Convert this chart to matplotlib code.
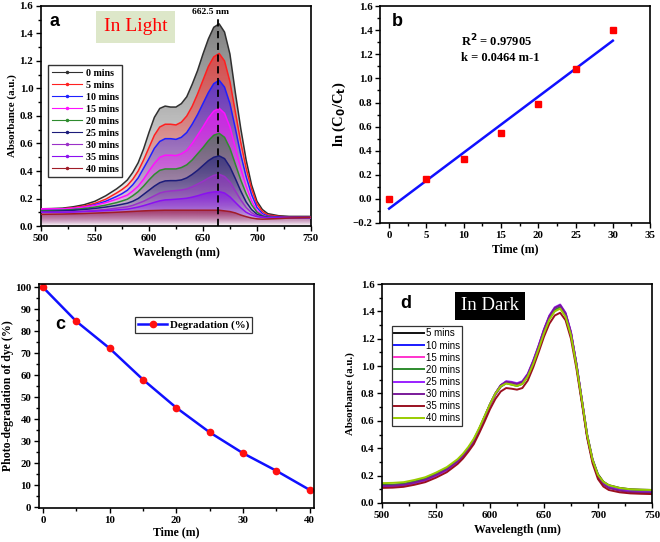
import numpy as np
import matplotlib
matplotlib.use('Agg')
import matplotlib.pyplot as plt
import matplotlib.colors as mcolors
from matplotlib.patches import Polygon
from matplotlib.ticker import MultipleLocator

plt.rcParams['font.family'] = ['Liberation Serif', 'DejaVu Serif']
plt.rcParams['font.weight'] = 'bold'
plt.rcParams['axes.labelweight'] = 'bold'

# ---- wavelength grid shared by the spectra (nm) ----
wl = [500, 510, 520, 530, 540, 550, 560, 570, 575, 580, 585, 590, 595, 600, 605,
      610, 615, 620, 625, 630, 635, 640, 645, 650, 655, 660, 665, 670, 675, 680,
      685, 690, 695, 700, 705, 710, 720, 730, 740, 750]

# ---- panel a: UV-vis spectra in light ----
light_labels = ['0 mins', '5 mins', '10 mins', '15 mins', '20 mins', '25 mins',
                '30 mins', '35 mins', '40 mins']
light_colors = ['#303030', '#ff2020', '#1f1fff', '#ff10ff', '#2e8b2e', '#1c1c7a',
                '#9a30c8', '#8a10f0', '#a01c28']
light_0 = [.125, .127, .13, .14, .155, .18, .22, .27, .30, .335, .39, .46, .56, .68, .79,
           .855, .872, .865, .865, .89, .94, 1.03, 1.13, 1.25, 1.36, 1.445, 1.47, 1.41, 1.25, .97,
           .71, .48, .30, .18, .12, .09, .075, .07, .07, .07]
light_5 = [.12, .122, .125, .133, .145, .165, .195, .24, .265, .295, .34, .40, .48, .57, .66,
           .72, .74, .74, .735, .755, .80, .87, .96, 1.06, 1.16, 1.23, 1.255, 1.20, 1.05, .83,
           .61, .42, .27, .16, .105, .08, .07, .065, .065, .065]
light_10 = [.115, .117, .12, .127, .137, .155, .18, .215, .235, .26, .30, .35, .42, .49, .565,
            .615, .635, .635, .63, .645, .68, .74, .81, .89, .97, 1.035, 1.06, 1.01, .89, .71,
            .52, .36, .23, .135, .09, .072, .065, .063, .063, .063]
light_15 = [.125, .125, .125, .13, .138, .15, .17, .195, .21, .225, .255, .29, .34, .40, .455,
            .50, .515, .515, .512, .525, .55, .60, .66, .72, .785, .835, .856, .82, .72, .57,
            .42, .29, .185, .11, .08, .065, .06, .06, .06, .06]
light_20 = [.11, .112, .115, .12, .127, .138, .152, .17, .182, .195, .22, .25, .29, .335, .375,
            .405, .415, .415, .415, .425, .445, .48, .525, .57, .62, .66, .674, .645, .565, .45,
            .335, .235, .155, .10, .075, .065, .06, .06, .06, .06]
light_25 = [.105, .107, .11, .114, .12, .128, .138, .15, .158, .166, .18, .20, .23, .26, .29,
            .315, .328, .33, .33, .335, .35, .375, .405, .44, .475, .50, .51, .49, .43, .345,
            .255, .175, .12, .085, .07, .062, .06, .06, .06, .06]
light_30 = [.10, .10, .10, .104, .108, .114, .12, .13, .135, .14, .15, .165, .18, .20, .22,
            .24, .25, .255, .258, .262, .27, .285, .305, .325, .348, .368, .376, .36, .32, .255,
            .19, .135, .097, .075, .065, .06, .06, .06, .06, .06]
light_35 = [.10, .10, .10, .102, .105, .108, .112, .117, .12, .123, .13, .138, .148, .16, .172,
            .183, .19, .192, .195, .198, .202, .21, .22, .232, .242, .248, .25, .24, .212, .172,
            .133, .10, .08, .068, .062, .06, .06, .06, .06, .06]
light_40 = [.085, .086, .087, .089, .091, .094, .097, .10, .102, .104, .106, .108, .11, .112, .113,
            .114, .115, .115, .115, .115, .115, .115, .115, .115, .115, .115, .115, .11, .105, .095,
            .08, .068, .058, .052, .05, .051, .054, .058, .06, .062]
light_spectra = [light_0, light_5, light_10, light_15, light_20, light_25,
                 light_30, light_35, light_40]

# ---- panel b: kinetics ----
time_b = [0, 5, 10, 15, 20, 25, 30]
ln_c0_ct = [0.0, 0.165, 0.33, 0.545, 0.79, 1.08, 1.405]

# ---- panel c: degradation ----
time_c = [0, 5, 10, 15, 20, 25, 30, 35, 40]
degradation = [100, 84.5, 72.2, 58, 45.2, 34, 24.5, 16.5, 7.8]

# ---- panel d: spectra in dark ----
dark_labels = ['5 mins', '10 mins', '15 mins', '20 mins', '25 mins', '30 mins',
               '35 mins', '40 mins']
dark_colors = ['#111111', '#1a1aff', '#ff33cc', '#2e8b2e', '#9a20ff', '#7a1a9a',
               '#9a1020', '#99cc00']
dark_5 = [.13, .132, .138, .155, .175, .21, .25, .31, .35, .40, .46, .54, .63, .72, .80,
          .86, .885, .875, .865, .88, .935, 1.03, 1.14, 1.26, 1.36, 1.42, 1.44, 1.38, 1.24, 1.02,
          .76, .50, .32, .21, .155, .13, .11, .10, .097, .095]
dark_10 = [.125, .127, .133, .15, .17, .205, .245, .305, .345, .395, .455, .535, .625, .715, .795,
           .855, .88, .87, .86, .875, .93, 1.025, 1.135, 1.255, 1.355, 1.415, 1.435, 1.375, 1.235, 1.01,
           .75, .49, .31, .20, .145, .12, .10, .09, .087, .085]
dark_15 = [.12, .122, .128, .145, .165, .20, .24, .30, .34, .39, .45, .53, .62, .71, .79,
           .85, .878, .87, .86, .875, .93, 1.03, 1.14, 1.26, 1.36, 1.42, 1.44, 1.38, 1.24, 1.01,
           .75, .49, .31, .195, .14, .115, .095, .085, .082, .08]
dark_20 = [.13, .132, .138, .155, .175, .21, .25, .31, .35, .40, .46, .54, .63, .72, .795,
           .85, .875, .865, .855, .87, .925, 1.02, 1.13, 1.25, 1.35, 1.41, 1.43, 1.37, 1.23, 1.01,
           .75, .49, .31, .20, .15, .12, .10, .09, .087, .085]
dark_25 = [.12, .122, .128, .145, .165, .20, .24, .30, .34, .39, .45, .535, .625, .72, .80,
           .86, .89, .885, .875, .89, .945, 1.04, 1.15, 1.27, 1.37, 1.43, 1.45, 1.39, 1.25, 1.02,
           .76, .49, .31, .195, .14, .115, .095, .085, .08, .078]
dark_30 = [.125, .127, .133, .15, .17, .205, .245, .305, .345, .395, .455, .537, .627, .72, .80,
           .86, .885, .88, .87, .885, .94, 1.035, 1.145, 1.265, 1.365, 1.425, 1.445, 1.385, 1.245, 1.015,
           .755, .49, .31, .19, .135, .11, .09, .08, .077, .075]
dark_35 = [.11, .112, .118, .133, .152, .185, .225, .285, .325, .375, .43, .51, .595, .685, .76,
           .815, .84, .835, .828, .84, .895, .99, 1.10, 1.215, 1.31, 1.37, 1.39, 1.335, 1.20, .985,
           .735, .475, .29, .175, .12, .095, .078, .07, .067, .065]
dark_40 = [.145, .147, .152, .168, .188, .222, .262, .32, .36, .41, .47, .548, .635, .722, .80,
           .853, .873, .865, .855, .87, .925, 1.015, 1.125, 1.24, 1.34, 1.40, 1.42, 1.36, 1.225, 1.005,
           .755, .495, .315, .205, .155, .13, .11, .10, .097, .095]
dark_spectra = [dark_5, dark_10, dark_15, dark_20, dark_25, dark_30, dark_35, dark_40]


def style_axes(ax):
    for s in ax.spines.values():
        s.set_linewidth(1.2)
    ax.tick_params(which='both', direction='out', top=False, right=False,
                   labelsize=7.8, width=1, pad=2)
    ax.tick_params(which='major', length=3.5)
    ax.tick_params(which='minor', length=2)
    for lab in ax.get_xticklabels() + ax.get_yticklabels():
        lab.set_fontweight('bold')


def gradient_fill(ax, x, y, color, amax=0.62):
    rgb = mcolors.to_rgb(color)
    img = np.zeros((128, 1, 4))
    img[:, 0, :3] = rgb
    img[:, 0, 3] = np.linspace(0, amax, 128)
    im = ax.imshow(img, aspect='auto', origin='lower',
                   extent=[x[0], x[-1], 0, max(y)], zorder=1)
    verts = [(x[0], 0)] + list(zip(x, y)) + [(x[-1], 0)]
    patch = Polygon(verts, closed=True, facecolor='none', edgecolor='none')
    ax.add_patch(patch)
    im.set_clip_path(patch)


fig = plt.figure(figsize=(6.6, 5.42), dpi=100)

# panel a
ax_a = fig.add_axes([0.0621, 0.583, 0.409, 0.406])
for spec, col in zip(light_spectra, light_colors):
    gradient_fill(ax_a, wl, spec, col)
for spec, col, lab in zip(light_spectra, light_colors, light_labels):
    ax_a.plot(wl, spec, color=col, lw=1.1, label=lab, zorder=3)
ax_a.plot([664, 664], [0, 1.535], color='black', ls=(0, (4, 2.5)), lw=1.3, zorder=4)
ax_a.text(657, 1.555, '662.5 nm', ha='center', va='center', fontsize=6.8,
          fontweight='bold')
ax_a.set_xlim(500, 750)
ax_a.set_ylim(0, 1.6)
ax_a.xaxis.set_major_locator(MultipleLocator(50))
ax_a.xaxis.set_minor_locator(MultipleLocator(25))
ax_a.yaxis.set_major_locator(MultipleLocator(0.2))
ax_a.yaxis.set_minor_locator(MultipleLocator(0.1))
ax_a.set_xlabel('Wavelength (nm)', fontsize=8.5, labelpad=3)
ax_a.set_ylabel('Absorbance (a.u.)', fontsize=7.8, labelpad=2)
handles = [plt.Line2D([], [], color=c, lw=0.8, marker='o', markersize=1.5)
           for c in light_colors]
leg = ax_a.legend(handles, light_labels, loc='upper left', bbox_to_anchor=(0.026, 0.73),
                  borderaxespad=0, frameon=True, fancybox=False,
                  edgecolor='black', handlelength=3.0, handletextpad=0.4,
                  labelspacing=0.3, borderpad=0.35, prop={'weight': 'bold', 'size': 7.2})
leg.get_frame().set_linewidth(1.0)
leg.set_zorder(5)
ax_a.text(0.35, 0.905, 'In Light', transform=ax_a.transAxes, ha='center', va='center',
          fontsize=14, color='#ff0000', fontweight='normal', zorder=6,
          bbox=dict(boxstyle='square,pad=0.4', facecolor='#dde7c9', edgecolor='none'))
ax_a.text(0.033, 0.93, 'a', transform=ax_a.transAxes, ha='left', va='center',
          fontsize=13, fontweight='bold', family='Liberation Sans', zorder=6)
style_axes(ax_a)

# panel b
ax_b = fig.add_axes([0.576, 0.5886, 0.409, 0.400])
slope, intercept = np.polyfit(time_b, ln_c0_ct, 1)
fit_x = np.array([time_b[0], time_b[-1]])
ax_b.plot(fit_x, slope * fit_x + intercept, color='#1010ff', lw=1.8, zorder=2)
ax_b.plot(time_b, ln_c0_ct, ls='none', marker='s', color='#ff0000', markersize=4.2, zorder=3)
ax_b.set_xlim(-1.2, 35)
ax_b.set_ylim(-0.2, 1.6)
ax_b.xaxis.set_major_locator(MultipleLocator(5))
ax_b.xaxis.set_minor_locator(MultipleLocator(2.5))
ax_b.yaxis.set_major_locator(MultipleLocator(0.2))
ax_b.yaxis.set_minor_locator(MultipleLocator(0.1))
ax_b.set_xlabel('Time (m)', fontsize=8.5, labelpad=3)
ax_b.set_ylabel('ln (C$_\\mathbf{0}$/C$_\\mathbf{t}$)', fontsize=10.5, labelpad=3)
ax_b.text(9.6, 1.25, 'R$^\\mathbf{2}$ = 0.97905\nk = 0.0464 m-1', ha='left', va='center',
          fontsize=9, fontweight='bold', linespacing=1.25)
ax_b.text(0.045, 0.93, 'b', transform=ax_b.transAxes, ha='left', va='center',
          fontsize=13, fontweight='bold', family='Liberation Sans')
style_axes(ax_b)

# panel c
ax_c = fig.add_axes([0.059, 0.0627, 0.4167, 0.413])
ax_c.plot(time_c, degradation, color='#1010ff', lw=1.8, marker='o',
          markerfacecolor='#ff1010', markeredgecolor='#ff1010', markersize=4.5,
          label='Degradation (%)')
ax_c.set_xlim(-0.6, 40.65)
ax_c.set_ylim(-0.45, 101.4)
ax_c.xaxis.set_major_locator(MultipleLocator(10))
ax_c.xaxis.set_minor_locator(MultipleLocator(5))
ax_c.yaxis.set_major_locator(MultipleLocator(10))
ax_c.yaxis.set_minor_locator(MultipleLocator(5))
ax_c.set_xlabel('Time (m)', fontsize=8.5, labelpad=1)
ax_c.set_ylabel('Photo-degradation of dye (%)', fontsize=8.5, labelpad=0.5)
leg_c = ax_c.legend(loc='upper left', bbox_to_anchor=(0.35, 0.855), borderaxespad=0,
                    fancybox=False, edgecolor='black', handlelength=2.6,
                    handletextpad=0.3, borderpad=0.3,
                    prop={'weight': 'bold', 'size': 7.8})
leg_c.get_frame().set_linewidth(0.9)
ax_c.text(0.058, 0.82, 'c', transform=ax_c.transAxes, ha='left', va='center',
          fontsize=13, fontweight='bold', family='Liberation Sans')
style_axes(ax_c)

# panel d
ax_d = fig.add_axes([0.5788, 0.072, 0.409, 0.404])
for spec, col, lab in zip(dark_spectra, dark_colors, dark_labels):
    ax_d.plot(wl, spec, color=col, lw=1.4, label=lab)
ax_d.set_xlim(500, 750)
ax_d.set_ylim(0, 1.6)
ax_d.xaxis.set_major_locator(MultipleLocator(50))
ax_d.xaxis.set_minor_locator(MultipleLocator(25))
ax_d.yaxis.set_major_locator(MultipleLocator(0.2))
ax_d.yaxis.set_minor_locator(MultipleLocator(0.1))
ax_d.set_xlabel('Wavelength (nm)', fontsize=8.5, labelpad=3)
ax_d.set_ylabel('Absorbance (a.u.)', fontsize=7.8, labelpad=4)
leg_d = ax_d.legend(loc='upper left', bbox_to_anchor=(0.037, 0.808), borderaxespad=0,
                    fancybox=False, edgecolor='black', handlelength=3.0,
                    handletextpad=0.2, labelspacing=0.22, borderpad=0.25,
                    prop={'family': 'Liberation Sans', 'weight': 'normal', 'size': 7})
leg_d.get_frame().set_linewidth(0.9)
ax_d.text(0.40, 0.90, 'In Dark', transform=ax_d.transAxes, ha='center', va='center',
          fontsize=13.5, color='white', fontweight='normal',
          bbox=dict(boxstyle='square,pad=0.3', facecolor='black', edgecolor='none'))
ax_d.text(0.067, 0.91, 'd', transform=ax_d.transAxes, ha='left', va='center',
          fontsize=13, fontweight='bold', family='Liberation Sans')
style_axes(ax_d)

fig.savefig('out.png', dpi=100)
